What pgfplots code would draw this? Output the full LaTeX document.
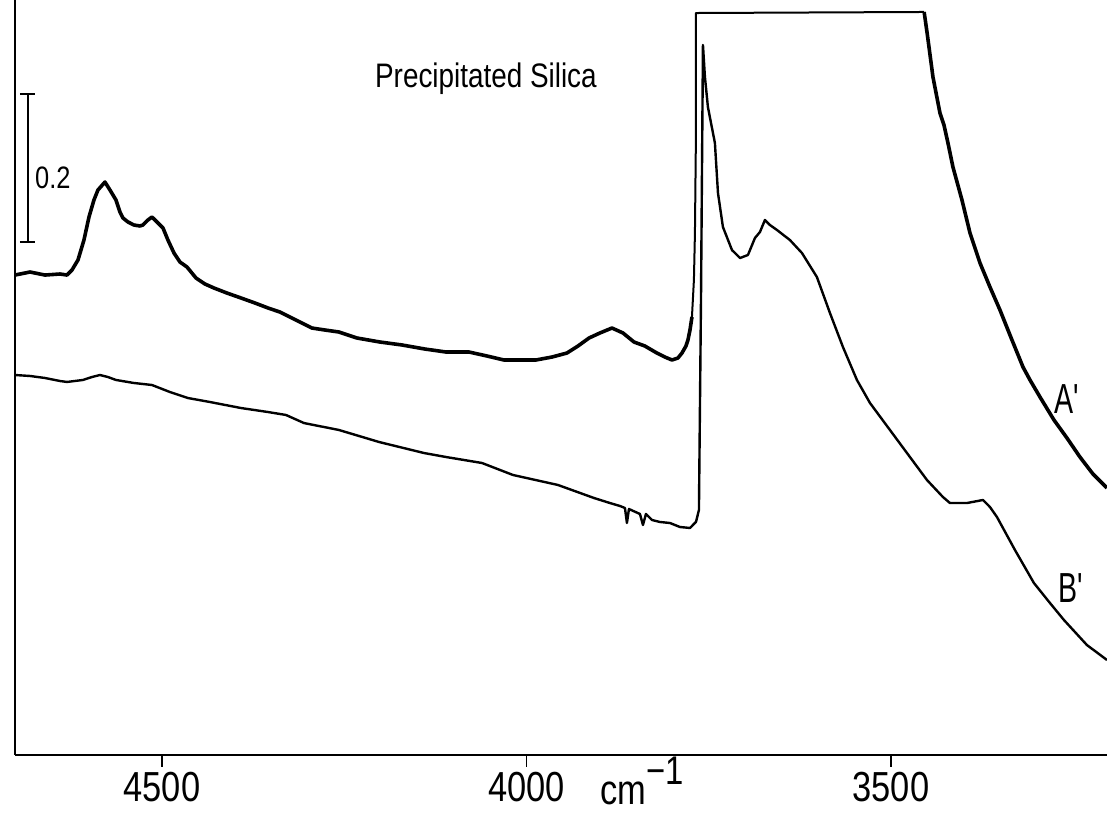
\documentclass[border=0pt]{standalone}
\usepackage{pgfplots}
\pgfplotsset{compat=1.18}
\usepackage{fontspec}
\setmainfont[FakeStretch=0.82]{Liberation Sans}
\newfontfamily\narrowfont[FakeStretch=0.68]{Liberation Sans}
\begin{document}
\begin{tikzpicture}
\useasboundingbox (-15pt,-63pt) rectangle (1092pt,755pt);
\begin{axis}[
  scale only axis, width=1092pt, height=755pt,
  at={(0pt,0pt)}, anchor=south west,
  x dir=reverse, xmin=3203.7, xmax=4701.6, ymin=0, ymax=1.0203,
  axis x line*=bottom, axis y line*=left,
  axis line style={line width=2pt, black},
  xtick={4500,4000,3500}, xticklabels={4500,4000,3500},
  ytick=\empty,
  tick align=outside, major tick length=12pt,
  tick style={line width=1.8pt, black},
  xticklabel style={font=\fontsize{42}{42}\selectfont, anchor=base, yshift=-35pt, inner sep=0pt},
  clip=false,
]
% Curve A' (upper, noisy, saturated)
\addplot[black, line width=3.6pt, line join=round] coordinates {
(4701.6,0.6486) (4681.0,0.6527) (4660.5,0.6486) (4639.9,0.6500) (4630.3,0.6486)
(4623.4,0.6554) (4615.2,0.6689) (4607.0,0.6959) (4600.1,0.7270) (4593.3,0.7500)
(4587.8,0.7635) (4578.2,0.7743) (4571.3,0.7635) (4563.1,0.7500) (4557.6,0.7338)
(4553.5,0.7257) (4546.6,0.7203) (4538.4,0.7162) (4530.2,0.7149) (4526.1,0.7162)
(4519.2,0.7230) (4513.7,0.7270) (4506.8,0.7203) (4498.6,0.7122) (4491.8,0.6959)
(4483.5,0.6784) (4475.3,0.6662) (4465.7,0.6595) (4453.3,0.6446) (4441.0,0.6365)
(4428.7,0.6311) (4410.9,0.6243) (4391.6,0.6176) (4372.4,0.6108) (4354.6,0.6041)
(4338.1,0.5986) (4324.4,0.5919) (4310.7,0.5851) (4294.3,0.5770) (4276.4,0.5743)
(4257.2,0.5716) (4232.5,0.5635) (4201.0,0.5581) (4170.8,0.5541) (4139.2,0.5486)
(4110.4,0.5446) (4078.9,0.5446) (4054.2,0.5392) (4030.9,0.5338) (4008.9,0.5338)
(3987.0,0.5338) (3965.0,0.5378) (3944.5,0.5432) (3929.3,0.5527) (3914.2,0.5635)
(3899.2,0.5703) (3882.7,0.5770) (3867.6,0.5703) (3852.5,0.5581) (3837.6,0.5527)
(3821.1,0.5432) (3810.1,0.5378) (3800.4,0.5338) (3792.2,0.5365) (3786.7,0.5432)
(3781.2,0.5527) (3778.5,0.5608) (3775.7,0.5743) (3773.0,0.5919)
};
\addplot[black, line width=2pt, line join=round] coordinates {
(3773.0,0.5919) (3770.3,0.6419)
(3768.9,0.7054) (3767.5,0.8405) (3767.5,1.0027) (3454.5,1.0041)
};
\addplot[black, line width=3.6pt, line join=round] coordinates {
(3454.5,1.0041) (3450.4,0.9757)
(3442.4,0.9162) (3432.8,0.8676) (3427.3,0.8514) (3421.8,0.8270) (3415.0,0.7946)
(3402.6,0.7500) (3391.6,0.7054) (3377.9,0.6649) (3364.2,0.6324) (3350.5,0.6014)
(3334.0,0.5608) (3318.9,0.5243) (3309.3,0.5068) (3295.6,0.4838) (3276.4,0.4527)
(3258.6,0.4284) (3240.8,0.4027) (3222.9,0.3797) (3203.7,0.3608)
};
% Curve B' (lower)
\addplot[black, line width=2.4pt, line join=round] coordinates {
(4701.6,0.5135) (4681.0,0.5122) (4660.5,0.5095) (4639.9,0.5054) (4630.3,0.5041)
(4608.4,0.5068) (4596.0,0.5108) (4585.0,0.5135) (4574.1,0.5108) (4563.1,0.5068)
(4538.4,0.5027) (4513.7,0.5000) (4489.0,0.4905) (4464.3,0.4824) (4434.1,0.4770)
(4391.6,0.4689) (4354.6,0.4635) (4329.9,0.4595) (4305.2,0.4486) (4257.2,0.4392)
(4202.3,0.4230) (4140.6,0.4081) (4110.4,0.4027) (4061.0,0.3946) (4018.5,0.3784)
(3956.8,0.3649) (3907.4,0.3473) (3885.5,0.3405) (3871.7,0.3365) (3864.9,0.3338)
(3862.2,0.3135) (3859.4,0.3324) (3844.3,0.3257) (3840.2,0.3108) (3836.1,0.3257)
(3827.9,0.3176) (3816.9,0.3149) (3803.1,0.3135) (3789.4,0.3081) (3775.7,0.3068)
(3767.5,0.3149) (3763.4,0.3311) (3760.6,0.6149) (3757.9,0.9595) (3755.2,0.9162)
(3751.1,0.8757) (3741.5,0.8270) (3737.3,0.7595) (3730.5,0.7135) (3718.1,0.6824)
(3707.1,0.6716) (3696.2,0.6757) (3686.6,0.6986) (3679.7,0.7068) (3672.9,0.7230)
(3666.0,0.7162) (3656.4,0.7095) (3638.6,0.6959) (3622.1,0.6784) (3601.6,0.6459)
(3583.7,0.5973) (3565.9,0.5514) (3546.7,0.5068) (3528.8,0.4757) (3501.4,0.4392)
(3474.0,0.4027) (3450.6,0.3716) (3428.7,0.3486) (3419.1,0.3405) (3395.8,0.3405)
(3373.8,0.3446) (3364.2,0.3351) (3354.6,0.3216) (3329.9,0.2770) (3303.9,0.2324)
(3281.9,0.2054) (3262.7,0.1824) (3231.2,0.1486) (3203.7,0.1284)
};
% scale bar 0.2
\draw[black, line width=1.8pt] (axis cs:4683.8,0.8932) -- (axis cs:4683.8,0.6932);
\draw[black, line width=1.8pt] (axis cs:4694.8,0.8932) -- (axis cs:4674.2,0.8932);
\draw[black, line width=1.8pt] (axis cs:4694.8,0.6932) -- (axis cs:4674.2,0.6932);
\node[anchor=west, inner sep=0pt, font=\fontsize{31}{31}\selectfont] at (axis cs:4674.2,0.7797) {0.2};
\node[inner sep=0pt, font=\fontsize{34}{34}\selectfont] at (axis cs:4055.6,0.9135) {Precipitated Silica};
\node[inner sep=0pt, font=\narrowfont\fontsize{42}{42}\selectfont] at (axis cs:3258.6,0.4811) {A'};
\node[inner sep=0pt, font=\narrowfont\fontsize{42}{42}\selectfont] at (axis cs:3253.1,0.2257) {B'};
\node[anchor=base west, inner sep=0pt, font=\fontsize{42}{42}\selectfont, yshift=-49pt] at (axis cs:3898.6,0) {cm\raisebox{20pt}{\fontsize{40}{40}\selectfont −1}};
\end{axis}
\end{tikzpicture}
\end{document}
